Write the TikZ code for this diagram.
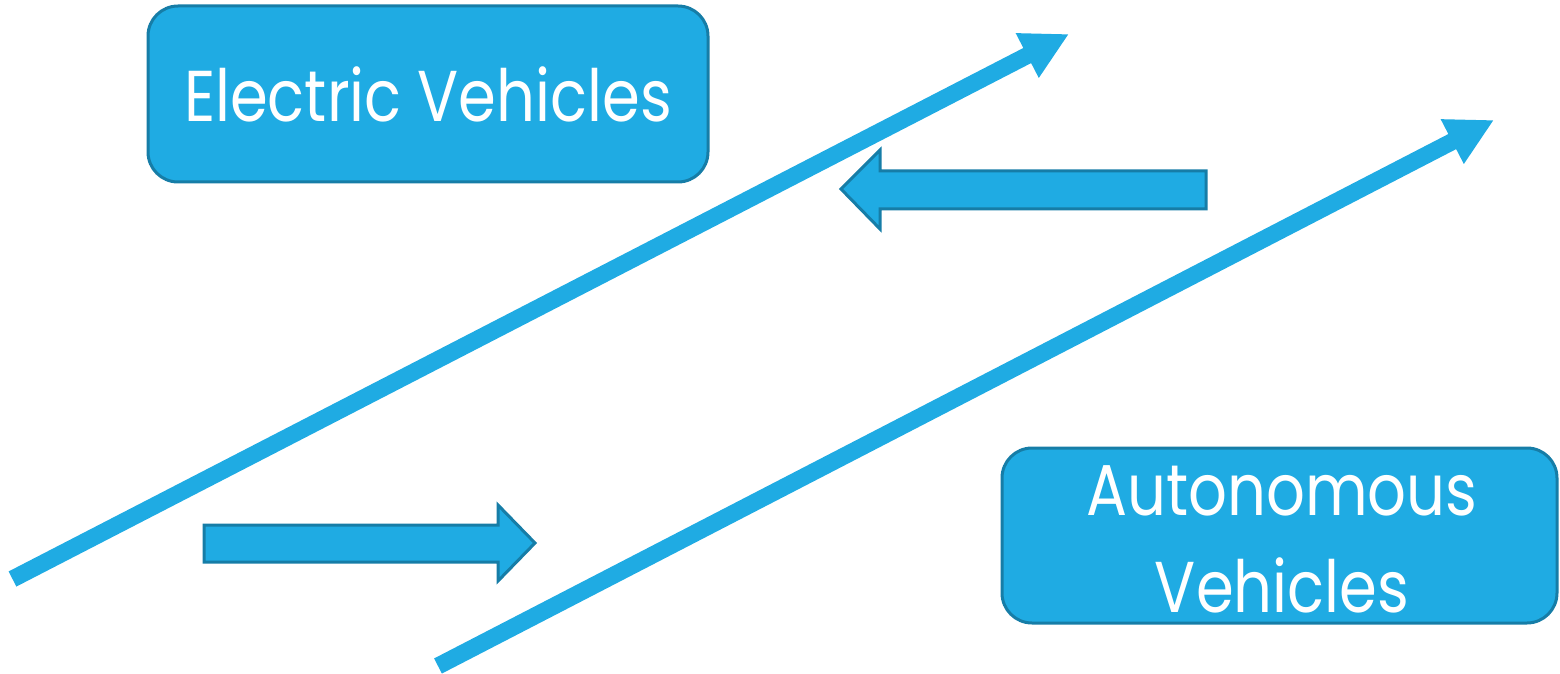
\documentclass[tikz,border=0pt]{standalone}
\usepackage{fontspec}
\setmainfont{Poppins}[FakeStretch=0.845]
\usetikzlibrary{arrows.meta}
\definecolor{boxfill}{RGB}{31,171,227}
\definecolor{boxline}{RGB}{22,125,167}
\tikzset{
  labelbox/.style={fill=boxfill, draw=boxline, line width=1.5pt, rounded corners=15pt},
  blockarrow/.style={fill=boxfill, draw=boxline, line width=1.5pt, line join=miter},
  trend/.style={draw=boxfill, line width=8.5pt,
    -{Triangle[length=23.5pt, width=23.5pt]}, shorten >=0pt},
  boxtext/.style={text=white, font=\fontsize{36}{48}\selectfont, anchor=base, inner sep=0pt}
}
\begin{document}
\begin{tikzpicture}[x=0.5pt, y=-0.5pt]
  \useasboundingbox (0,0) rectangle (1560,674);

  % label boxes
  \draw[labelbox] (148,6) rectangle (708,182);
  \node[boxtext] (ev) at (428,122) {Electric Vehicles};

  \draw[labelbox] (1002,448) rectangle (1557,623);
  \node[boxtext] (av1) at (1282,515) {Autonomous};
  \node[boxtext] (av2) at (1282,612) {Vehicles};

  % rising trend lines
  \coordinate (t1s) at (12.5,579);
  \coordinate (t1e) at (1069,34);
  \coordinate (t2s) at (438,666);
  \coordinate (t2e) at (1494,120);
  \draw[trend] (t1s) -- (t1e);
  \draw[trend] (t2s) -- (t2e);

  % block arrows
  \draw[blockarrow] (204,525) -- (498,525) -- (498,505) -- (535,543)
    -- (498,581) -- (498,562) -- (204,562) -- cycle;
  \draw[blockarrow] (1206,171) -- (880,171) -- (880,150) -- (841,189)
    -- (880,229) -- (880,209) -- (1206,209) -- cycle;
\end{tikzpicture}
\end{document}
